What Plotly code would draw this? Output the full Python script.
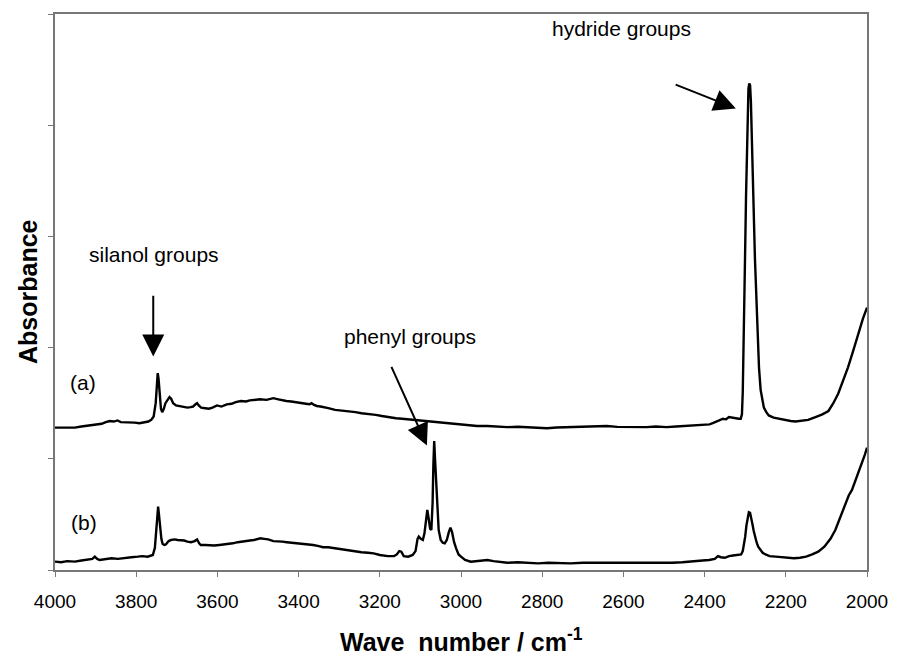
import plotly.graph_objects as go

# FTIR spectra: wavenumber (cm-1) and absorbance (arb. units, offset)
wn_a = [4000, 3985, 3970, 3951, 3935, 3919, 3900, 3885, 3875, 3865, 3855, 3846, 3838, 3829,
        3815, 3804, 3792, 3780, 3770, 3763, 3757, 3752, 3749, 3747, 3745, 3742, 3739, 3736,
        3732, 3728, 3722, 3718, 3714, 3709, 3702, 3694, 3684, 3674, 3666, 3660, 3654, 3650,
        3646, 3640, 3630, 3621, 3612, 3601, 3590, 3577, 3565, 3555, 3542, 3530, 3520, 3510,
        3495, 3479, 3470, 3462, 3450, 3440, 3430, 3418, 3405, 3395, 3382, 3373, 3368, 3362,
        3355, 3346, 3335, 3327, 3310, 3295, 3278, 3260, 3245, 3229, 3210, 3195, 3180, 3160,
        3145, 3131, 3110, 3095, 3082, 3060, 3045, 3033, 3015, 3000, 2984, 2960, 2935, 2910,
        2886, 2860, 2837, 2815, 2788, 2765, 2739, 2715, 2690, 2665, 2641, 2615, 2592, 2570,
        2543, 2520, 2494, 2470, 2445, 2420, 2397, 2388, 2380, 2372, 2364, 2355, 2347, 2340,
        2332, 2323, 2316, 2311, 2308, 2306, 2304, 2302, 2300, 2298, 2296, 2294, 2292, 2290,
        2288, 2286, 2284, 2282, 2280, 2278, 2276, 2273, 2270, 2266, 2262, 2258, 2254, 2248,
        2242, 2230, 2218, 2200, 2188, 2176, 2160, 2145, 2127, 2110, 2095, 2083, 2071, 2059,
        2047, 2035, 2022, 2010, 2000]
abs_a = [1.28, 1.28, 1.275, 1.28, 1.29, 1.30, 1.305, 1.315, 1.33, 1.34, 1.335, 1.345, 1.33, 1.33,
         1.325, 1.325, 1.32, 1.33, 1.335, 1.35, 1.38, 1.50, 1.70, 1.77, 1.72, 1.56, 1.45, 1.42,
         1.45, 1.50, 1.54, 1.555, 1.54, 1.50, 1.48, 1.475, 1.47, 1.46, 1.465, 1.47, 1.49, 1.50,
         1.48, 1.46, 1.455, 1.45, 1.46, 1.48, 1.47, 1.49, 1.495, 1.51, 1.52, 1.515, 1.525, 1.53,
         1.535, 1.53, 1.54, 1.545, 1.535, 1.525, 1.52, 1.515, 1.51, 1.505, 1.495, 1.49, 1.50, 1.485,
         1.475, 1.47, 1.465, 1.455, 1.44, 1.435, 1.425, 1.42, 1.41, 1.405, 1.395, 1.385, 1.375, 1.365,
         1.36, 1.355, 1.345, 1.34, 1.335, 1.325, 1.32, 1.315, 1.31, 1.305, 1.30, 1.295, 1.295, 1.29,
         1.285, 1.288, 1.285, 1.28, 1.275, 1.282, 1.285, 1.283, 1.285, 1.29, 1.295, 1.287, 1.285, 1.288,
         1.285, 1.29, 1.285, 1.29, 1.295, 1.30, 1.305, 1.31, 1.32, 1.33, 1.345, 1.36, 1.355, 1.375,
         1.37, 1.36, 1.36, 1.36, 1.40, 1.60, 1.95, 2.45, 2.90, 3.35, 3.80, 4.15, 4.33, 4.375,
         4.36, 4.22, 3.98, 3.68, 3.38, 3.08, 2.80, 2.45, 2.10, 1.82, 1.62, 1.52, 1.46, 1.42,
         1.39, 1.37, 1.36, 1.345, 1.34, 1.335, 1.34, 1.35, 1.375, 1.40, 1.43, 1.50, 1.585, 1.70,
         1.82, 1.96, 2.12, 2.26, 2.36]

wn_b = [4000, 3985, 3970, 3951, 3935, 3919, 3908, 3902, 3896, 3890, 3875, 3861, 3845, 3829,
        3812, 3796, 3785, 3772, 3765, 3759, 3754, 3751, 3748, 3746, 3744, 3741, 3738, 3735,
        3731, 3727, 3720, 3714, 3705, 3698, 3690, 3682, 3674, 3665, 3656, 3650, 3645, 3641,
        3630, 3620, 3608, 3595, 3585, 3576, 3562, 3550, 3543, 3530, 3520, 3510, 3500, 3494,
        3485, 3475, 3462, 3450, 3440, 3429, 3415, 3405, 3396, 3380, 3364, 3350, 3340, 3327,
        3310, 3295, 3278, 3260, 3245, 3229, 3215, 3200, 3180, 3165, 3158, 3152, 3147, 3141,
        3130, 3119, 3112, 3107, 3104, 3099, 3094, 3090, 3086, 3083, 3080, 3076, 3073, 3070,
        3068, 3066, 3064, 3061, 3058, 3055, 3050, 3045, 3040, 3035, 3030, 3026, 3022, 3017,
        3012, 3006, 3000, 2990, 2976, 2960, 2945, 2935, 2920, 2900, 2886, 2860, 2837, 2810,
        2785, 2756, 2730, 2700, 2673, 2650, 2620, 2592, 2565, 2540, 2511, 2480, 2455, 2429,
        2405, 2389, 2375, 2367, 2360, 2350, 2340, 2330, 2323, 2316, 2310, 2306, 2303, 2300,
        2297, 2294, 2291, 2288, 2285, 2282, 2279, 2276, 2272, 2268, 2263, 2257, 2250, 2240,
        2225, 2210, 2195, 2180, 2165, 2150, 2135, 2120, 2105, 2090, 2078, 2066, 2054, 2045,
        2037, 2025, 2012, 2005, 2000]
abs_b = [0.075, 0.07, 0.08, 0.075, 0.085, 0.09, 0.10, 0.12, 0.10, 0.09, 0.095, 0.105, 0.10, 0.11,
         0.115, 0.12, 0.125, 0.12, 0.13, 0.135, 0.20, 0.33, 0.52, 0.57, 0.50, 0.36, 0.28, 0.235,
         0.225, 0.23, 0.26, 0.27, 0.275, 0.27, 0.27, 0.265, 0.255, 0.25, 0.26, 0.275, 0.24, 0.225,
         0.225, 0.22, 0.22, 0.225, 0.23, 0.23, 0.24, 0.25, 0.255, 0.26, 0.265, 0.27, 0.28, 0.285,
         0.28, 0.275, 0.26, 0.26, 0.255, 0.25, 0.245, 0.245, 0.24, 0.23, 0.225, 0.215, 0.205, 0.205,
         0.195, 0.19, 0.18, 0.17, 0.16, 0.155, 0.15, 0.135, 0.125, 0.125, 0.14, 0.17, 0.165, 0.125,
         0.12, 0.135, 0.17, 0.28, 0.30, 0.28, 0.27, 0.33, 0.48, 0.54, 0.47, 0.37, 0.36, 0.60,
         0.95, 1.16, 1.00, 0.75, 0.52, 0.36, 0.27, 0.245, 0.24, 0.27, 0.34, 0.38, 0.34, 0.25,
         0.195, 0.14, 0.12, 0.09, 0.075, 0.08, 0.09, 0.09, 0.08, 0.07, 0.065, 0.07, 0.065, 0.06,
         0.065, 0.06, 0.06, 0.065, 0.065, 0.06, 0.065, 0.06, 0.065, 0.06, 0.065, 0.065, 0.07, 0.075,
         0.085, 0.09, 0.10, 0.125, 0.115, 0.11, 0.125, 0.13, 0.135, 0.135, 0.14, 0.17, 0.22, 0.30,
         0.40, 0.48, 0.52, 0.515, 0.47, 0.41, 0.35, 0.30, 0.25, 0.21, 0.18, 0.155, 0.14, 0.125,
         0.12, 0.115, 0.11, 0.105, 0.11, 0.12, 0.14, 0.165, 0.21, 0.28, 0.36, 0.47, 0.58, 0.67,
         0.72, 0.84, 0.96, 1.04, 1.10]

x_ticks = [4000, 3800, 3600, 3400, 3200, 3000, 2800, 2600, 2400, 2200, 2000]

# Band labels: text, text position, arrow tail, arrow tip
band_labels = ["silanol groups", "phenyl groups", "hydride groups"]
label_pos = [(3755, 2.84), (3126, 2.10), (2605, 4.87)]
arrow_tail = [(3758, 2.48), (3173, 1.84), (2475, 4.37)]
arrow_tip = [(3758, 1.92), (3084, 1.12), (2323, 4.15)]

trace_labels = ["(a)", "(b)"]
trace_label_pos = [(3931, 1.69), (3929, 0.43)]

FONT = "Liberation Sans, Arial, sans-serif"

fig = go.Figure()
fig.add_trace(go.Scatter(x=wn_a, y=abs_a, mode="lines",
                         line=dict(color="black", width=2.4), showlegend=False))
fig.add_trace(go.Scatter(x=wn_b, y=abs_b, mode="lines",
                         line=dict(color="black", width=2.4), showlegend=False))

annotations = []
for txt, (lx, ly), (tx, ty), (hx, hy) in zip(band_labels, label_pos, arrow_tail, arrow_tip):
    annotations.append(dict(x=lx, y=ly, xref="x", yref="y", text=txt, showarrow=False,
                            font=dict(family=FONT, size=21, color="black")))
    annotations.append(dict(x=hx, y=hy, ax=tx, ay=ty, xref="x", yref="y", axref="x", ayref="y",
                            text="", showarrow=True, arrowhead=2, arrowsize=2.2,
                            arrowwidth=2, arrowcolor="black"))
for txt, (lx, ly) in zip(trace_labels, trace_label_pos):
    annotations.append(dict(x=lx, y=ly, xref="x", yref="y", text=txt, showarrow=False,
                            font=dict(family=FONT, size=21, color="black")))

# Axis titles
annotations.append(dict(x=0.5, y=0, xref="paper", yref="paper", yshift=-70, yanchor="middle",
                        text="<b>Wave\u00a0\u00a0number / cm<sup>-1</sup></b>", showarrow=False,
                        font=dict(family=FONT, size=25, color="black")))
annotations.append(dict(x=0, y=0.5, xref="paper", yref="paper", xshift=-27, xanchor="center",
                        text="<b>Absorbance</b>", textangle=-90, showarrow=False,
                        font=dict(family=FONT, size=25, color="black")))

fig.update_layout(
    width=900, height=654,
    margin=dict(l=55, r=28, t=12, b=84),
    paper_bgcolor="white", plot_bgcolor="white",
    font=dict(family=FONT, size=19, color="black"),
    annotations=annotations,
)
fig.update_xaxes(range=[4000, 2000], tickvals=x_ticks, ticks="outside", ticklen=5,
                 tickcolor="#777", showline=True, linecolor="#777", linewidth=1.5, mirror=True,
                 showgrid=False, zeroline=False, ticklabelstandoff=8,
                 tickfont=dict(family=FONT, size=19, color="black"))
fig.update_yaxes(range=[0, 5], dtick=1, ticks="outside", ticklen=5, tickcolor="#777",
                 showticklabels=False, showline=True, linecolor="#777", linewidth=1.5, mirror=True,
                 showgrid=False, zeroline=False)

fig.write_html("out.html")
